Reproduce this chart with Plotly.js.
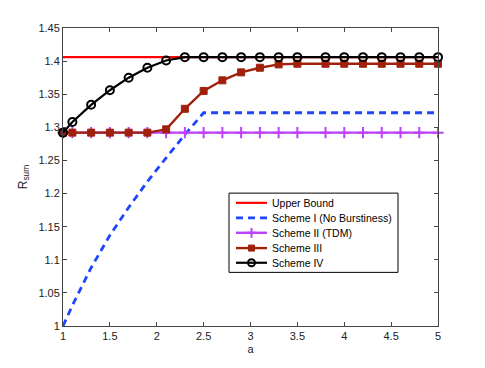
<!DOCTYPE html>
<html>
<head>
<meta charset="utf-8">
<script src="https://cdn.plot.ly/plotly-3.0.1.min.js"></script>
<style>html,body{margin:0;padding:0;background:#fff;}#chart{width:485px;height:368px;}</style>
</head>
<body>
<div id="chart"></div>
<script>
const aValues = [1, 1.1, 1.3, 1.5, 1.7, 1.9, 2.1, 2.3, 2.5, 2.7, 2.9, 3.1, 3.3, 3.5, 3.8, 4.0, 4.2, 4.4, 4.6, 4.8, 5.0];
const upperBound = [1.406, 1.406, 1.406, 1.406, 1.406, 1.406, 1.406, 1.406, 1.406, 1.406, 1.406, 1.406, 1.406, 1.406, 1.406, 1.406, 1.406, 1.406, 1.406, 1.406, 1.406];
const schemeI = [1.0, 1.031, 1.088, 1.137, 1.179, 1.218, 1.254, 1.289, 1.322, 1.322, 1.322, 1.322, 1.322, 1.322, 1.322, 1.322, 1.322, 1.322, 1.322, 1.322, 1.322];
const schemeII = [1.292, 1.292, 1.292, 1.292, 1.292, 1.292, 1.292, 1.292, 1.292, 1.292, 1.292, 1.292, 1.292, 1.292, 1.292, 1.292, 1.292, 1.292, 1.292, 1.292, 1.292];
const schemeIII = [1.292, 1.292, 1.292, 1.292, 1.292, 1.292, 1.297, 1.328, 1.355, 1.371, 1.383, 1.390, 1.395, 1.396, 1.396, 1.396, 1.396, 1.396, 1.396, 1.396, 1.396];
const schemeIV = [1.292, 1.308, 1.334, 1.356, 1.375, 1.390, 1.401, 1.406, 1.406, 1.406, 1.406, 1.406, 1.406, 1.406, 1.406, 1.406, 1.406, 1.406, 1.406, 1.406, 1.406];
const seriesNames = ['Upper Bound', 'Scheme I (No Burstiness)', 'Scheme II (TDM)', 'Scheme III', 'Scheme IV'];
const xTicks = [1, 1.5, 2, 2.5, 3, 3.5, 4, 4.5, 5];
const yTicks = [1, 1.05, 1.1, 1.15, 1.2, 1.25, 1.3, 1.35, 1.4, 1.45];

const FONT = 'Liberation Sans, Arial, Helvetica, sans-serif';
const styles = [
  {line: {color: '#ff0000', width: 2.2}, marker: null},
  {line: {color: '#1f45ff', width: 2.8, dash: '7px,5px'}, marker: null},
  {line: {color: '#bf40ff', width: 2.4}, marker: {symbol: 'cross-thin-open', size: 8, color: '#bf40ff', line: {color: '#bf40ff', width: 2}}},
  {line: {color: '#a0200c', width: 2.4}, marker: {symbol: 'square', size: 7, color: '#a0200c', line: {color: '#a0200c', width: 1}}},
  {line: {color: '#000000', width: 2.2}, marker: {symbol: 'circle-open', size: 8, color: '#000000', line: {color: '#000000', width: 2}}}
];
const seriesY = [upperBound, schemeI, schemeII, schemeIII, schemeIV];

const traces = seriesY.map((ys, i) => {
  const t = {x: aValues, y: ys, name: seriesNames[i], showlegend: false, cliponaxis: false,
             mode: styles[i].marker ? 'lines+markers' : 'lines', line: styles[i].line};
  if (styles[i].marker) t.marker = styles[i].marker;
  return t;
});

// Custom compact legend drawn on an overlay subplot whose range [0,1] equals the plot area
const legBox = {x0: 0.4427, x1: 0.8933, y0: 0.180, y1: 0.4459};
const legRows = [0.4133, 0.3631, 0.3128, 0.2615, 0.2122];
const legLineX = [0.4613, 0.544];
const legTextX = 0.553;
traces.push({x: [legBox.x0, legBox.x1, legBox.x1, legBox.x0, legBox.x0],
             y: [legBox.y0, legBox.y0, legBox.y1, legBox.y1, legBox.y0],
             xaxis: 'x2', yaxis: 'y2', mode: 'lines', fill: 'toself', fillcolor: '#ffffff',
             line: {color: '#000', width: 1}, showlegend: false, hoverinfo: 'skip', cliponaxis: false});
const annotations = [];
seriesNames.forEach((nm, i) => {
  traces.push({x: legLineX, y: [legRows[i], legRows[i]], xaxis: 'x2', yaxis: 'y2', mode: 'lines',
               line: styles[i].line, showlegend: false, hoverinfo: 'skip', cliponaxis: false});
  if (styles[i].marker) {
    const m = styles[i].marker;
    traces.push({x: [(legLineX[0] + legLineX[1]) / 2], y: [legRows[i]], xaxis: 'x2', yaxis: 'y2', mode: 'markers',
                 showlegend: false, cliponaxis: false, hoverinfo: 'skip',
                 marker: {symbol: m.symbol, size: m.size - 1, color: m.color, line: m.line}});
  }
  annotations.push({xref: 'paper', yref: 'paper', x: legTextX, y: legRows[i], xanchor: 'left', yanchor: 'middle',
                    text: nm, showarrow: false, font: {family: FONT, size: 10.5, color: '#000'}});
});

const axisCommon = {
  showgrid: false, zeroline: false, showline: true, mirror: 'ticks',
  linecolor: '#444', linewidth: 1, ticks: 'inside', ticklen: 4, tickcolor: '#444',
  tickfont: {family: FONT, size: 11, color: '#222'}
};

const layout = {
  width: 485, height: 368,
  margin: {l: 63, r: 47, t: 28, b: 42},
  paper_bgcolor: '#fff', plot_bgcolor: '#fff',
  showlegend: false,
  xaxis: Object.assign({}, axisCommon, {
    range: [1, 5], tickvals: xTicks, ticktext: xTicks.map(String),
    title: {text: 'a', standoff: 4, font: {family: FONT, size: 11, color: '#222'}}
  }),
  yaxis: Object.assign({}, axisCommon, {
    range: [1, 1.45], tickvals: yTicks, ticktext: yTicks.map(String),
    title: {text: 'R<sub>sum</sub>', standoff: 8, font: {family: FONT, size: 12, color: '#222'}}
  }),
  xaxis2: {overlaying: 'x', range: [0, 1], visible: false, fixedrange: true},
  yaxis2: {overlaying: 'y', range: [0, 1], visible: false, fixedrange: true},
  annotations: annotations
};

Plotly.newPlot('chart', traces, layout, {staticPlot: true, displayModeBar: false});
</script>
</body>
</html>
